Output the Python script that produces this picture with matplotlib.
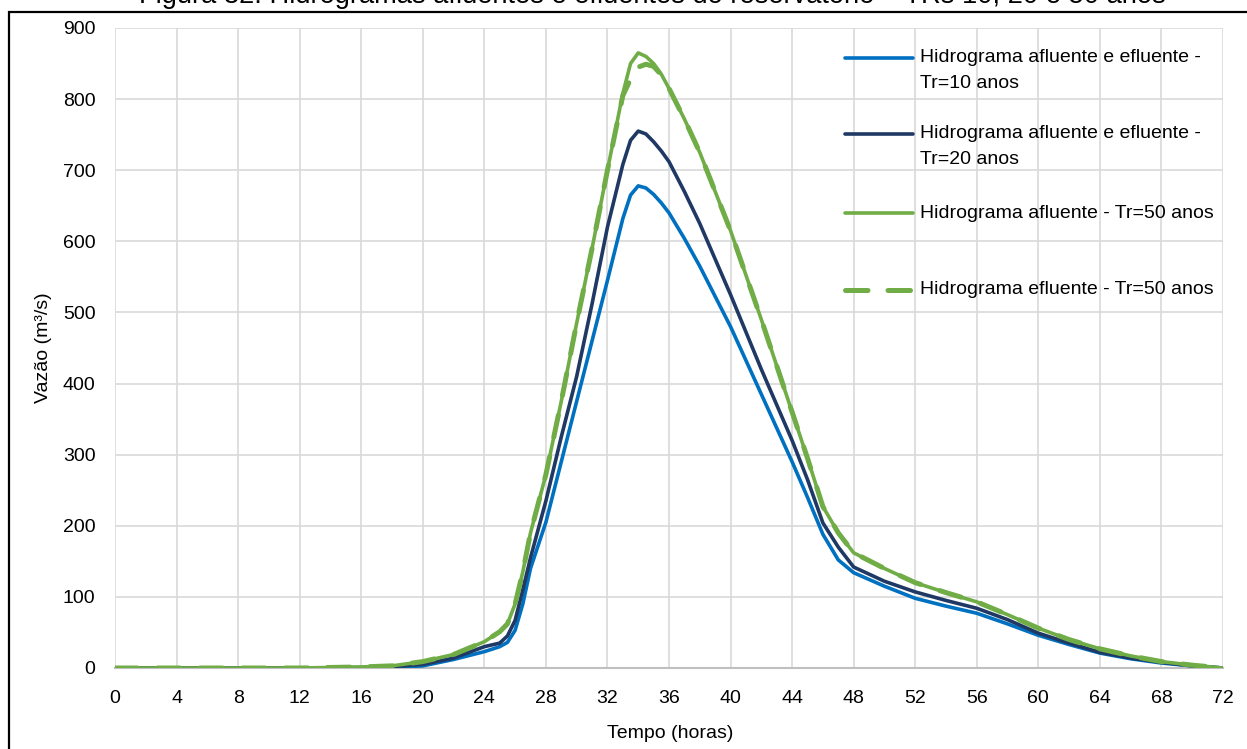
import matplotlib
matplotlib.use("Agg")
import matplotlib.pyplot as plt
from matplotlib import font_manager as fm
from matplotlib.lines import Line2D
from matplotlib.patches import Rectangle

# Hydrograph data (time in hours, discharge in m³/s)
tempo = [0, 4, 8, 12, 16, 18, 20, 22, 24, 25, 25.5, 26, 26.5, 27, 28, 29, 30, 31, 32,
         33, 33.5, 34, 34.5, 35, 35.5, 36, 37, 38, 40, 42, 44, 45, 46, 47, 48, 50, 52,
         54, 56, 58, 60, 62, 64, 66, 68, 70, 72]

q_tr10 = [0, 0, 0, 0, 0.5, 1, 3, 12, 23, 30, 36, 53, 90, 140, 205, 290, 375, 460, 545,
          632, 665, 678, 675, 666, 654, 640, 604, 565, 480, 385, 290, 240, 188, 152, 134,
          115, 98, 87, 77, 62, 46, 33, 21, 13, 7, 3, 0]

q_tr20 = [0, 0, 0, 0, 0.5, 2, 5, 14, 30, 35, 45, 67, 110, 155, 235, 325, 410, 512, 620,
          708, 742, 755, 751, 740, 727, 712, 670, 625, 525, 420, 320, 265, 204, 170, 142,
          122, 107, 95, 84, 68, 49, 35, 22, 14, 8, 3, 0]

q_tr50_afl = [0, 0, 0, 0, 1.5, 3, 9, 19, 37, 51, 62, 90, 135, 190, 272, 375, 485, 590, 700,
              808, 850, 865, 860, 850, 835, 815, 772, 725, 615, 490, 360, 295, 227, 190, 162,
              140, 120, 106, 93, 75, 56, 40, 27, 17, 9, 4, 0]

q_tr50_efl = [0, 0, 0, 0, 1.5, 3, 9, 19, 37, 51, 62, 90, 135, 190, 272, 375, 485, 590, 700,
              805, 828, 845, 849, 846, 834, 815, 772, 725, 615, 490, 360, 295, 227, 190, 162,
              140, 120, 106, 93, 75, 56, 40, 27, 17, 9, 4, 0]

labels = [
    ["Hidrograma afluente e efluente -", "Tr=10 anos"],
    ["Hidrograma afluente e efluente -", "Tr=20 anos"],
    ["Hidrograma afluente - Tr=50 anos"],
    ["Hidrograma efluente - Tr=50 anos"],
]

x_ticks = list(range(0, 73, 4))
y_ticks = list(range(0, 901, 100))

titulo = "Figura 32: Hidrogramas afluentes e efluentes do reservatório – TRs 10, 20 e 50 anos"

# Font choice: narrow sans if available
names = {f.name for f in fm.fontManager.ttflist}
if "Liberation Sans Narrow" in names:
    FAMILY, FS = "Liberation Sans Narrow", 17
else:
    FAMILY, FS = "Liberation Sans", 14
plt.rcParams["font.family"] = [FAMILY, "DejaVu Sans"]

W, H = 1247, 749
fig = plt.figure(figsize=(W / 100, H / 100), dpi=100)


def fx(px):
    return px / W


def fy(py):
    return 1 - py / H


ax = fig.add_axes([fx(115), fy(668), fx(1223) - fx(115), fy(28) - fy(668)])

BLUE = "#0070C0"
NAVY = "#1F3864"
GREEN = "#70AD47"

styles = [
    dict(color=BLUE, lw=2.6, ls="-"),
    dict(color=NAVY, lw=2.6, ls="-"),
    dict(color=GREEN, lw=2.6, ls="-"),
    dict(color=GREEN, lw=3.6, ls=(0, (4.5, 4.0)), dash_capstyle="round"),
]
series = [q_tr10, q_tr20, q_tr50_afl, q_tr50_efl]

for q, st in zip(series, styles):
    ax.plot(tempo, q, solid_capstyle="round", solid_joinstyle="round", zorder=3, **st)

ax.set_xlim(0, 72)
ax.set_ylim(0, 900)
ax.set_xticks(x_ticks)
ax.set_yticks(y_ticks)
ax.grid(True, color="#D9D9D9", lw=1.2, zorder=0)
ax.set_axisbelow(True)
for s in ["top", "right", "left"]:
    ax.spines[s].set_visible(False)
ax.spines["bottom"].set_color("#BFBFBF")
ax.spines["bottom"].set_linewidth(1.5)
ax.tick_params(axis="both", length=0, labelsize=FS, colors="black")
ax.tick_params(axis="x", pad=16)
ax.tick_params(axis="y", pad=14)

fig.text(fx(670), fy(733), "Tempo (horas)", ha="center", va="center", fontsize=FS)
fig.text(fx(43), fy(348), "Vazão (m³/s)", ha="center", va="center", rotation=90,
         fontsize=FS)

# Legend drawn at fixed entry positions
leg_y = [58, 134, 213, 290]
for yy, lab, st in zip(leg_y, labels, styles):
    fig.add_artist(Line2D([fx(845), fx(913)], [fy(yy), fy(yy)], transform=fig.transFigure,
                          solid_capstyle="round", **st))
    for i, line in enumerate(lab):
        fig.text(fx(920), fy(yy + 26 * i), line, ha="left", va="center", fontsize=FS)

# Outer frame
fig.add_artist(Rectangle((fx(9), fy(800)), 1.2, fy(12) - fy(800), transform=fig.transFigure,
                         fill=False, edgecolor="black", lw=1.6))

fig.text(fx(652), fy(3), titulo, ha="center", va="baseline", fontsize=19.6)

fig.savefig("out.png", dpi=100)
